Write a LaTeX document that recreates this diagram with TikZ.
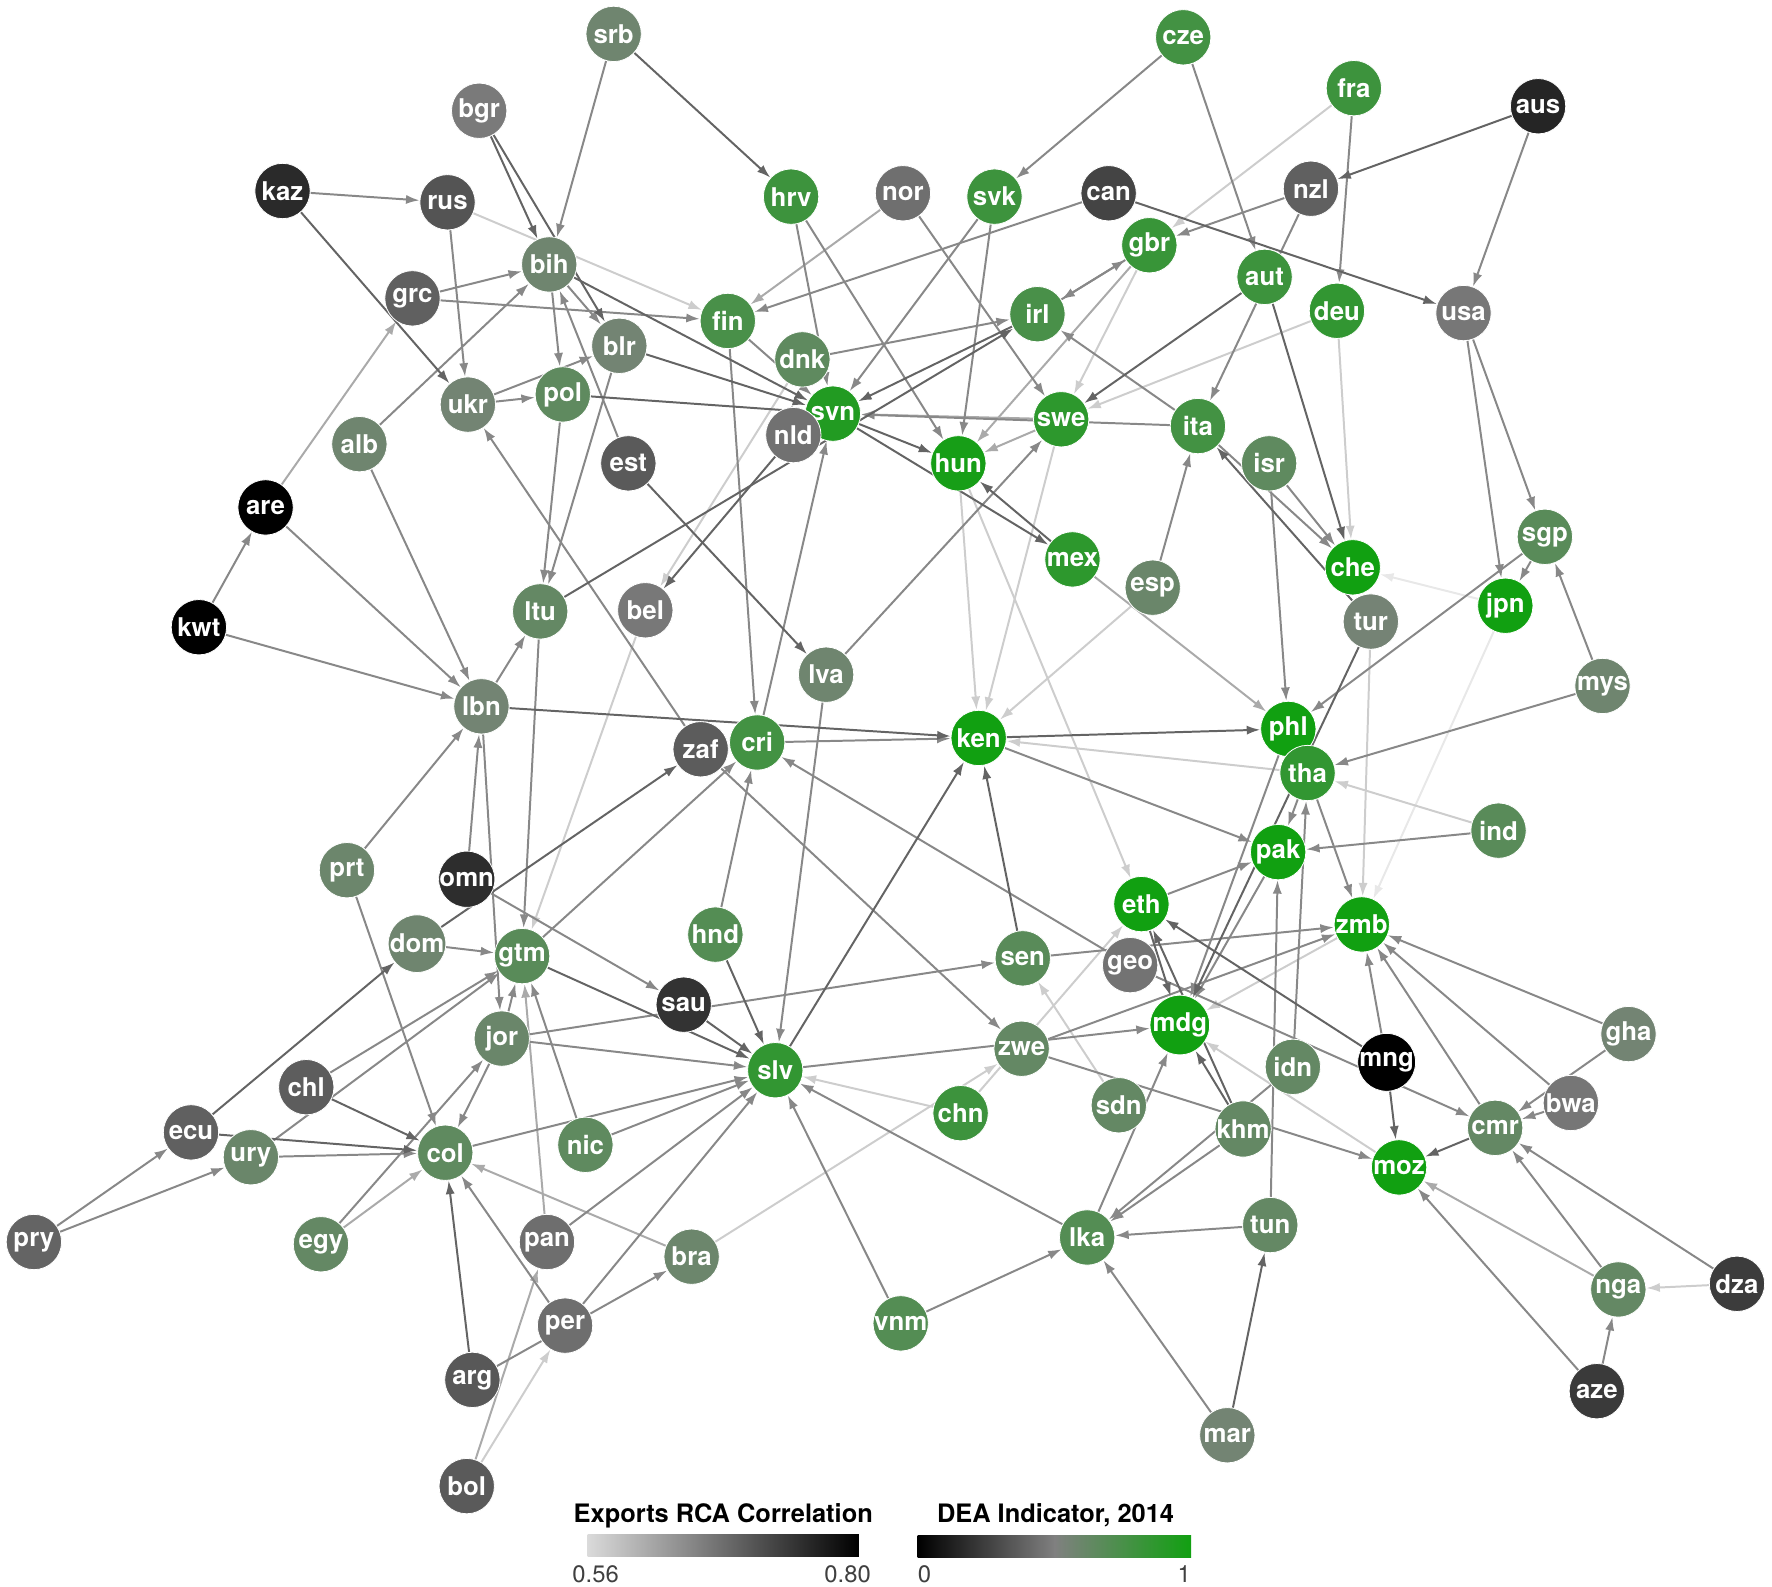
\documentclass[tikz,border=0pt]{standalone}
\usepackage{fontspec}
\setmainfont{TeX Gyre Heros}
\usepackage{xcolor}
\usetikzlibrary{arrows.meta, backgrounds}

\definecolor{deagreen}{RGB}{17,160,17}
\definecolor{deagray}{RGB}{128,128,128}
\definecolor{rcalight}{RGB}{218,218,218}
\definecolor{edgeA}{RGB}{232,232,232}
\definecolor{edgeB}{RGB}{205,205,205}
\definecolor{edgeC}{RGB}{170,170,170}
\definecolor{edgeD}{RGB}{136,136,136}
\definecolor{edgeE}{RGB}{100,100,100}

\begin{document}
\begin{tikzpicture}[
  x=0.02cm, y=-0.02cm,
  cty/.style={
    circle, inner sep=0pt, minimum size=0.98cm,
    draw=white, line width=0.4pt, text=white,
    font=\fontsize{13}{14}\selectfont\bfseries
  },
  dk/.style={cty, fill=deagray!#1!black},
  gn/.style={cty, fill=deagreen!#1!deagray},
  link/.style={-{Latex[length=6.8pt,width=4.6pt]}, line width=1pt},
  legtitle/.style={font=\fontsize{12.8}{14}\selectfont\bfseries},
  legnum/.style={font=\fontsize{12}{14}\selectfont, text=black!75}
]
\useasboundingbox (0,0) rectangle (1568,1404);

% countries, coloured by DEA indicator
\node[gn=15] (srb) at (543,30) {srb};
\node[dk=95] (bgr) at (424,98) {bgr};
\node[dk=33] (kaz) at (250,169) {kaz};
\node[dk=66] (rus) at (396,179) {rus};
\node[gn=60] (hrv) at (700,174) {hrv};
\node[dk=87] (nor) at (799,171) {nor};
\node[gn=60] (svk) at (880,174) {svk};
\node[dk=53] (can) at (981,171) {can};
\node[gn=55] (cze) at (1047,33) {cze};
\node[gn=60] (fra) at (1198,78) {fra};
\node[dk=29] (aus) at (1361,94) {aus};
\node[dk=75] (nzl) at (1160,167) {nzl};
\node[gn=65] (gbr) at (1017,217) {gbr};
\node[gn=60] (aut) at (1119,245) {aut};
\node[gn=70] (deu) at (1183,275) {deu};
\node[dk=93] (usa) at (1295,277) {usa};
\node[gn=15] (bih) at (486,234) {bih};
\node[dk=75] (grc) at (365,264) {grc};
\node[gn=50] (fin) at (644,284) {fin};
\node[gn=50] (irl) at (918,278) {irl};
\node[gn=30] (dnk) at (710,318) {dnk};
\node[gn=12] (blr) at (548,306) {blr};
\node[gn=12] (ukr) at (414,358) {ukr};
\node[gn=30] (pol) at (498,349) {pol};
\node[gn=15] (alb) at (318,393) {alb};
\node[gn=85] (svn) at (737,366) {svn};
\node[dk=88] (nld) at (702,385) {nld};
\node[dk=70] (est) at (556,410) {est};
\node[gn=95] (hun) at (848,410) {hun};
\node[gn=75] (swe) at (939,371) {swe};
\node[gn=55] (ita) at (1060,377) {ita};
\node[gn=30] (isr) at (1123,410) {isr};
\node[dk=0] (are) at (235,449) {are};
\node[gn=75] (mex) at (949,495) {mex};
\node[gn=20] (esp) at (1020,520) {esp};
\node[gn=100] (che) at (1197,502) {che};
\node[gn=10] (tur) at (1213,550) {tur};
\node[gn=35] (sgp) at (1367,475) {sgp};
\node[gn=100] (jpn) at (1332,536) {jpn};
\node[dk=0] (kwt) at (176,555) {kwt};
\node[gn=25] (ltu) at (478,541) {ltu};
\node[dk=94] (bel) at (571,540) {bel};
\node[gn=15] (lva) at (731,597) {lva};
\node[gn=15] (mys) at (1418,607) {mys};
\node[gn=12] (lbn) at (426,625) {lbn};
\node[dk=72] (zaf) at (620,663) {zaf};
\node[gn=55] (cri) at (670,657) {cri};
\node[gn=100] (ken) at (866,653) {ken};
\node[gn=100] (phl) at (1140,645) {phl};
\node[gn=70] (tha) at (1157,684) {tha};
\node[gn=35] (ind) at (1326,735) {ind};
\node[gn=100] (pak) at (1131,754) {pak};
\node[gn=18] (prt) at (307,770) {prt};
\node[dk=35] (omn) at (413,778) {omn};
\node[gn=100] (eth) at (1010,800) {eth};
\node[gn=100] (zmb) at (1205,818) {zmb};
\node[gn=15] (dom) at (369,835) {dom};
\node[gn=35] (gtm) at (462,846) {gtm};
\node[gn=40] (hnd) at (633,827) {hnd};
\node[gn=35] (sen) at (905,848) {sen};
\node[dk=90] (geo) at (1000,854) {geo};
\node[dk=40] (sau) at (605,889) {sau};
\node[gn=100] (mdg) at (1044,907) {mdg};
\node[gn=20] (jor) at (444,919) {jor};
\node[gn=25] (zwe) at (904,928) {zwe};
\node[gn=70] (slv) at (686,947) {slv};
\node[gn=25] (idn) at (1144,944) {idn};
\node[dk=0] (mng) at (1227,940) {mng};
\node[gn=12] (gha) at (1441,915) {gha};
\node[dk=73] (chl) at (271,962) {chl};
\node[gn=25] (sdn) at (990,978) {sdn};
\node[gn=60] (chn) at (850,985) {chn};
\node[dk=92] (bwa) at (1390,976) {bwa};
\node[dk=75] (ecu) at (169,1002) {ecu};
\node[gn=20] (ury) at (222,1024) {ury};
\node[gn=30] (col) at (394,1020) {col};
\node[gn=30] (nic) at (518,1013) {nic};
\node[gn=25] (khm) at (1100,999) {khm};
\node[gn=25] (cmr) at (1323,998) {cmr};
\node[gn=100] (moz) at (1238,1033) {moz};
\node[dk=78] (pry) at (30,1099) {pry};
\node[gn=25] (egy) at (284,1101) {egy};
\node[dk=86] (pan) at (484,1099) {pan};
\node[gn=18] (bra) at (612,1112) {bra};
\node[gn=40] (lka) at (962,1095) {lka};
\node[gn=25] (tun) at (1124,1084) {tun};
\node[gn=25] (nga) at (1432,1141) {nga};
\node[dk=47] (dza) at (1537,1136) {dza};
\node[dk=86] (per) at (500,1173) {per};
\node[gn=40] (vnm) at (797,1171) {vnm};
\node[dk=69] (arg) at (418,1221) {arg};
\node[dk=45] (aze) at (1413,1231) {aze};
\node[gn=12] (mar) at (1086,1270) {mar};
\node[dk=70] (bol) at (413,1315) {bol};

% links, shaded by exports RCA correlation
\begin{scope}[on background layer]
\foreach \from/\to in {jpn/che, jpn/zmb}
  \draw[link, draw=edgeA] (\from) -- (\to);

\foreach \from/\to in {rus/fin, fra/gbr, deu/swe, deu/che, gbr/swe, hun/ken,
    swe/ken, hun/eth, esp/ken, tha/ken, ind/tha, tur/zmb, dnk/bel, bel/gtm,
    chn/slv, chn/eth, bra/zwe, sdn/sen, moz/mdg, zmb/mdg, dza/nga, bol/per}
  \draw[link, draw=edgeB] (\from) -- (\to);

\foreach \from/\to in {nor/fin, are/grc, swe/hun, swe/svn, gbr/hun, bra/col,
    bol/pan, nga/moz, egy/col, pan/gtm, mex/phl}
  \draw[link, draw=edgeC] (\from) -- (\to);

\foreach \from/\to in {kaz/rus, rus/ukr, srb/bih, grc/bih, grc/fin, alb/bih,
    alb/lbn, kwt/are, kwt/lbn, are/lbn, ukr/pol, ukr/blr, bih/pol, bih/blr,
    est/bih, pol/ltu, blr/ltu, zaf/ukr, fin/svn, hrv/svn, hrv/hun, svk/svn,
    svk/hun, nor/swe, dnk/irl, can/fin, cze/svk, cze/aut, fra/deu, aus/usa,
    nzl/gbr, nzl/ita, irl/gbr, gbr/irl, usa/jpn, usa/sgp, ita/irl, ita/che,
    ita/svn, isr/che, isr/phl, esp/ita, lva/slv, lva/swe, cri/svn, fin/cri,
    cri/ken, gtm/cri, hnd/cri, geo/cri, zaf/zwe, omn/sau, omn/lbn, lbn/ltu,
    lbn/jor, prt/lbn, prt/col, dom/gtm, ltu/gtm, jor/gtm, nic/gtm, chl/gtm,
    ury/gtm, pry/ecu, pry/ury, ury/col, egy/jor, jor/col, jor/slv, jor/sen,
    col/slv, nic/slv, pan/slv, per/slv, per/col, arg/bra, vnm/slv, vnm/lka,
    lka/slv, khm/lka, idn/lka, tun/lka, mar/lka, lka/mdg, zwe/zmb, zwe/moz,
    slv/mdg, sen/zmb, geo/cmr, ken/pak, eth/pak, ind/pak, tha/pak, pak/mdg,
    phl/mdg, sgp/phl, sgp/jpn, mys/sgp, mys/tha, tha/zmb, mng/zmb, cmr/zmb,
    bwa/zmb, gha/zmb, gha/cmr, bwa/cmr, nga/cmr, dza/cmr, aze/moz, aze/nga,
    idn/tha, tun/pak}
  \draw[link, draw=edgeD] (\from) -- (\to);

\foreach \from/\to in {kaz/ukr, bih/svn, irl/svn, svn/hun, svn/mex, mex/hun,
    blr/svn, pol/svn, ltu/irl, nld/bel, aut/che, aus/nzl, srb/hrv, bgr/bih,
    bgr/blr, est/lva, aut/swe, can/usa, tur/ita, tur/mdg, khm/eth, khm/mdg,
    eth/mdg, ken/phl, lbn/ken, ecu/col, ecu/dom, dom/zaf, chl/col, arg/col,
    gtm/slv, sau/slv, hnd/slv, slv/ken, sen/ken, mar/tun, cmr/moz, mng/moz,
    mng/eth}
  \draw[link, draw=edgeE] (\from) -- (\to);
\end{scope}

% legends
\node[legtitle] (rcatitle) at (640,1341) {Exports RCA Correlation};
\shade[left color=rcalight, right color=black] (520,1358) rectangle (760,1377);
\node[legnum] (rcalow) at (527,1393) {0.56};
\node[legnum] (rcahigh) at (750,1393) {0.80};

\node[legtitle] (deatitle) at (934,1341) {DEA Indicator, 2014};
\shade[left color=black, right color=deagray] (812,1359) rectangle (934,1378);
\shade[left color=deagray, right color=deagreen] (933,1359) rectangle (1054,1378);
\node[legnum] (dealow) at (818,1393) {0};
\node[legnum] (deahigh) at (1048,1393) {1};
\end{tikzpicture}
\end{document}
